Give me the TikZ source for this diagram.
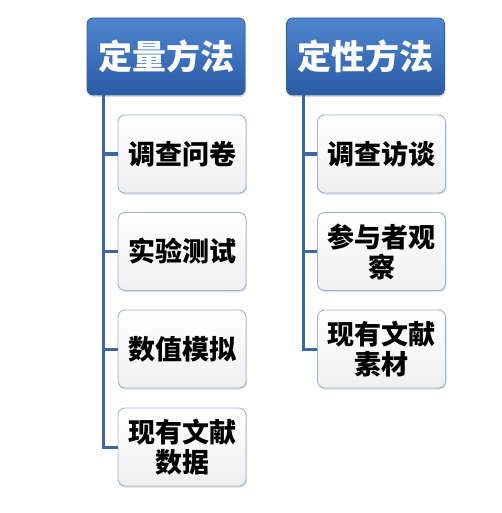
\documentclass[tikz,border=0pt]{standalone}
\usepackage{fontspec}
\newfontfamily\cjk{Noto Sans CJK SC}
\usetikzlibrary{shadows}
\definecolor{hdtop}{HTML}{4F86CF}
\definecolor{hdbot}{HTML}{2A5CA5}
\definecolor{hdline}{HTML}{2F5D9C}
\definecolor{chbd}{HTML}{9DB3D3}
\definecolor{trunk}{HTML}{3D67A3}
\tikzset{
  hd/.style={draw=hdline, line width=0.8pt, rounded corners=6pt, top color=hdtop, bottom color=hdbot,
    minimum width=158pt, minimum height=77pt, text=white, font=\cjk\bfseries\fontsize{34}{38}\selectfont,
    drop shadow={shadow xshift=1pt, shadow yshift=-2pt, opacity=0.3}},
  ch/.style={draw=chbd, line width=0.9pt, rounded corners=7pt, top color=white, bottom color=gray!12,
    minimum width=128pt, minimum height=78pt, text=black, align=center,
    font=\cjk\bfseries\fontsize{27}{30}\selectfont,
    drop shadow={shadow xshift=1pt, shadow yshift=-1.5pt, opacity=0.25}},
  tr/.style={draw=trunk, line width=3pt}
}
\begin{document}
\begin{tikzpicture}[x=1pt,y=-1pt]
\useasboundingbox (0,0) rectangle (501,513);
\node[hd] (h1) at (166,56.5) {定量方法};
\node[hd] (h2) at (365.5,56.5) {定性方法};
\node[ch] (a1) at (182,154) {调查问卷};
\node[ch] (a2) at (182,251.5) {实验测试};
\node[ch] (a3) at (182,349) {数值模拟};
\node[ch] (a4) at (182,447) {现有文献\\数据};
\node[ch] (b1) at (381.5,154) {调查访谈};
\node[ch] (b2) at (381.5,251.5) {参与者观\\察};
\node[ch] (b3) at (381.5,349) {现有文献\\素材};
\coordinate (t1) at (103,0);
\coordinate (t2) at (303,0);
\draw[tr] (t1 |- h1.south) -- (t1 |- a4.west) -- (a4.west);
\foreach \n in {a1,a2,a3} \draw[tr] (t1 |- \n.west) -- (\n.west);
\draw[tr] (t2 |- h2.south) -- (t2 |- b3.west) -- (b3.west);
\foreach \n in {b1,b2} \draw[tr] (t2 |- \n.west) -- (\n.west);
\end{tikzpicture}
\end{document}
